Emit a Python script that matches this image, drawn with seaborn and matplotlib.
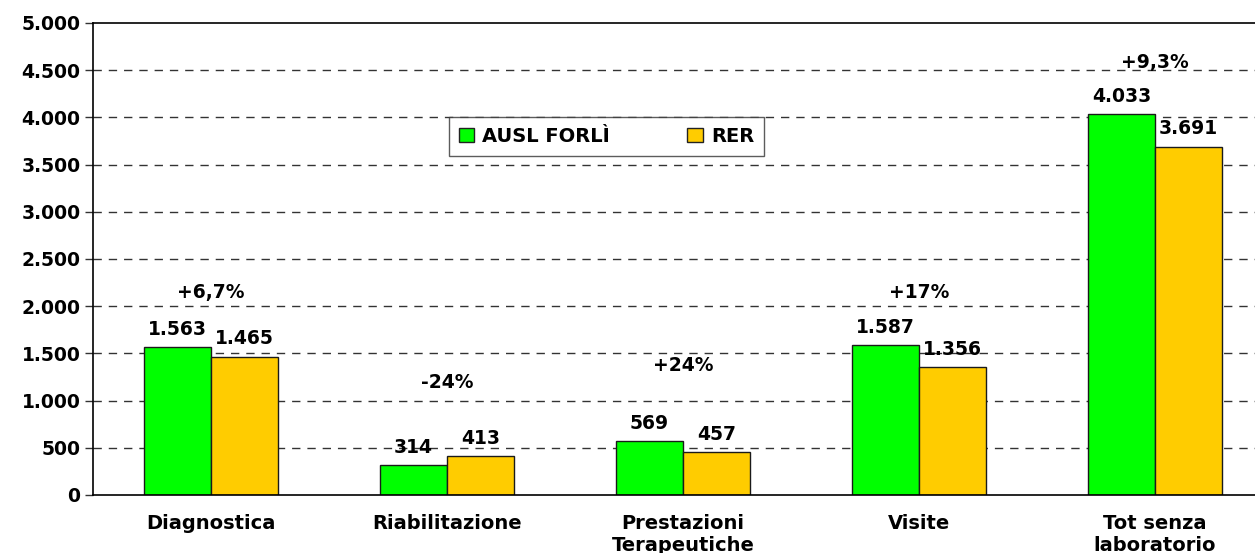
import pandas as pd
import matplotlib.pyplot as plt
import seaborn as sns
from matplotlib.patches import Patch

# data
categories = ['Diagnostica', 'Riabilitazione', 'Prestazioni\nTerapeutiche', 'Visite', 'Tot senza\nlaboratorio']
ausl_forli = [1563, 314, 569, 1587, 4033]
rer = [1465, 413, 457, 1356, 3691]
pct_labels = ['+6,7%', '-24%', '+24%', '+17%', '+9,3%']
pct_heights = [2150, 1190, 1370, 2150, 4580]   # where the % notes sit

series = ['AUSL FORLÌ', 'RER']
colors = ['#00FF00', '#FFCC00']

df = pd.DataFrame({
    'cat': categories * 2,
    'serie': [series[0]] * 5 + [series[1]] * 5,
    'val': ausl_forli + rer,
})

sns.set_style('white')
plt.rcParams['font.family'] = ['DejaVu Sans']
plt.rcParams['font.weight'] = 'bold'
plt.rcParams['text.color'] = 'black'
plt.rcParams['xtick.labelcolor'] = 'black'
plt.rcParams['ytick.labelcolor'] = 'black'
FS = 13.5

fig = plt.figure(figsize=(12.55, 5.53), dpi=100)
ax = fig.add_axes([93 / 1255, 58 / 553, 1180 / 1255, 472 / 553])

sns.barplot(data=df, x='cat', y='val', hue='serie', palette=colors, width=0.57, saturation=1,
            edgecolor='#1a1a1a', linewidth=1.0, ax=ax, legend=False)

ax.set_ylim(0, 5000)
ax.set_xlim(-0.5, 4.5)
ax.set_yticks(range(0, 5001, 500))
ax.set_yticklabels([f'{v:,}'.replace(',', '.') for v in range(0, 5001, 500)],
                   fontsize=13.5, fontweight='bold')
for y in range(500, 5000, 500):
    ax.axhline(y, color='#333333', linestyle=(0, (6, 5)), linewidth=1.0, zorder=0)

ax.set_xticks(range(5))
ax.set_xticklabels(categories, fontsize=14, fontweight='bold', linespacing=1.15)
ax.tick_params(axis='x', which='major', length=0, pad=14)
ax.set_xticks([0.5, 1.5, 2.5, 3.5], minor=True)
ax.tick_params(axis='x', which='minor', length=6, width=1, color='#555555', direction='out')
ax.tick_params(axis='y', length=6, width=1, color='#333333', direction='out', left=True, pad=3)
ax.set_xlabel('')
ax.set_ylabel('')

for s in ['left', 'bottom', 'top']:
    ax.spines[s].set_color('black')
    ax.spines[s].set_linewidth(1.2)
ax.spines['right'].set_visible(False)

# value labels above the bars
for cont in ax.containers:
    for bar in cont:
        h = bar.get_height()
        ax.annotate(f'{int(h):,}'.replace(',', '.'), (bar.get_x() + bar.get_width() / 2, h),
                    xytext=(0, 6), textcoords='offset points', ha='center', va='bottom',
                    fontsize=FS, fontweight='bold')

# percentage differences
for i, (lab, yy) in enumerate(zip(pct_labels, pct_heights)):
    ax.text(i, yy, lab, ha='center', va='center', fontsize=FS, fontweight='bold')

handles = [Patch(facecolor=c, edgecolor='#222222') for c in colors]
leg = ax.legend(handles, series, loc='center', bbox_to_anchor=(0.435, 0.76), ncol=2,
                frameon=True, fancybox=False, edgecolor='#333333', fontsize=14,
                handlelength=0.8, handleheight=0.8, columnspacing=4.0, handletextpad=0.4,
                borderpad=0.5)
leg.get_frame().set_linewidth(1.0)
for t in leg.get_texts():
    t.set_fontweight('bold')

fig.savefig('out.png', dpi=100)
